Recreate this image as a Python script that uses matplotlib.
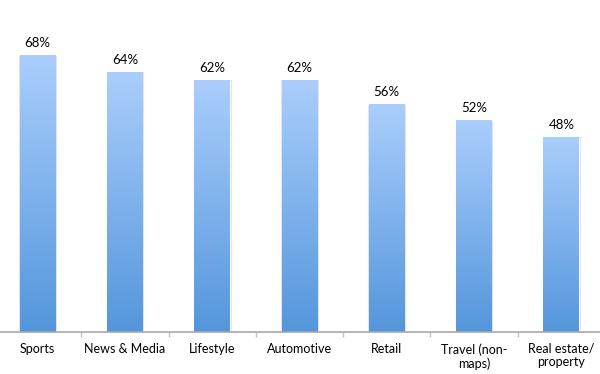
import numpy as np
import matplotlib
matplotlib.use("Agg")
import matplotlib.pyplot as plt
from matplotlib.colors import LinearSegmentedColormap

categories = ["Sports", "News & Media", "Lifestyle", "Automotive", "Retail", "Travel (non-\nmaps)", "Real estate/\nproperty"]
values = [68, 64, 62, 62, 56, 52, 48]
value_labels = ["68%", "64%", "62%", "62%", "56%", "52%", "48%"]

W, H = 600, 374
fig = plt.figure(figsize=(W / 100, H / 100), dpi=100)
x0, x1 = -6, 605
ax = fig.add_axes([x0 / W, 42 / H, (x1 - x0) / W, (H - 42) / H])
ymax = 332 / 4.06
ax.set_ylim(0, ymax)
n = len(categories)
ax.set_xlim(-0.5, n - 0.5)

cmap = LinearSegmentedColormap.from_list("g", [(84/255, 150/255, 220/255), (170/255, 206/255, 252/255)])
grad = np.linspace(0, 1, 256).reshape(-1, 1)
bw = 0.41
for i, v in enumerate(values):
    ax.imshow(grad, cmap=cmap, origin="lower", aspect="auto",
              extent=(i - bw / 2, i + bw / 2, 0, v), zorder=2, interpolation="bilinear")
    ax.bar(i, v, width=bw + 0.012, color="none", edgecolor="#e4e4e4", linewidth=0.8, zorder=1)
    ax.text(i, v + 1.6, value_labels[i], ha="center", va="bottom", fontsize=9.5,
            family="Lato", color="black")

for s in ["top", "right", "left"]:
    ax.spines[s].set_visible(False)
ax.spines["bottom"].set_color("#a8a8a8")
ax.spines["bottom"].set_linewidth(1.2)
ax.set_yticks([])
ax.set_xticks(np.arange(n - 1) + 0.5)
ax.set_xticklabels([])
ax.tick_params(axis="x", direction="out", length=3.5, color="#c4c4c4", width=1)
for i, c in enumerate(categories):
    ax.text(i, -2.7, c, ha="center", va="top", fontsize=9, family="Lato",
            color="black", linespacing=1.15)
ax.set_facecolor("white")
fig.savefig("out.png", dpi=100, facecolor="white")
